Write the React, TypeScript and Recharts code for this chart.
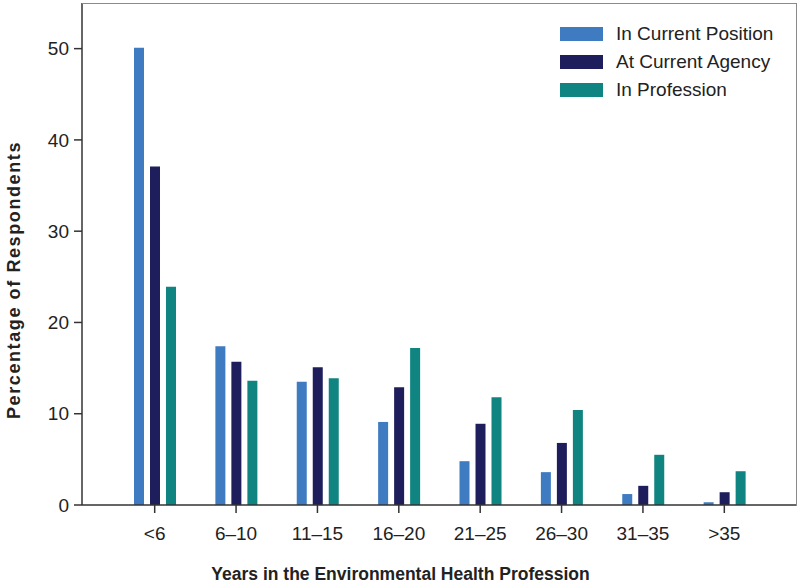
import React from 'react';
import { BarChart, Bar, XAxis, YAxis, Label } from 'recharts';

const categories = ['<6', '6–10', '11–15', '16–20', '21–25', '26–30', '31–35', '>35'];
const currentPosition = [50.1, 17.4, 13.5, 9.1, 4.8, 3.6, 1.2, 0.3];
const currentAgency = [37.1, 15.7, 15.1, 12.9, 8.9, 6.8, 2.1, 1.4];
const inProfession = [23.9, 13.6, 13.9, 17.2, 11.8, 10.4, 5.5, 3.7];
const yTicks = [0, 10, 20, 30, 40, 50];

const seriesNames = ['In Current Position', 'At Current Agency', 'In Profession'];
const colors = ['#3E7BC0', '#1E1E5C', '#0F8480'];

const data = categories.map((c, i) => ({
  cat: c,
  pos: currentPosition[i],
  agency: currentAgency[i],
  prof: inProfession[i],
}));

const font = '"Liberation Sans", Arial, Helvetica, sans-serif';

const YLabel = (props: any) => {
  const vb = props.viewBox || { x: 0, y: 0, width: 0, height: 0 };
  const cx = 20;
  const cy = vb.y + vb.height / 2 + 26;
  return (
    <text
      x={cx}
      y={cy}
      transform={`rotate(-90, ${cx}, ${cy})`}
      textAnchor="middle"
      style={{ fontSize: 18, fontWeight: 'bold', fill: '#222', fontFamily: font, letterSpacing: 1.6 }}
    >
      Percentage of Respondents
    </text>
  );
};

export default function App() {
  return (
    <div style={{ position: 'absolute', left: 0, top: 0, width: 800, height: 587, background: '#fff' }}>
      <BarChart
        width={800}
        height={587}
        data={data}
        margin={{ top: 3, right: 3, left: 0, bottom: 0 }}
        barSize={10}
        barGap={6}
      >
        <XAxis
          dataKey="cat"
          height={82}
          padding={{ left: 32, right: 32 }}
          tickSize={8}
          tickMargin={14}
          tick={{ fontSize: 19, fill: '#222', fontFamily: font }}
          axisLine={{ stroke: '#333', strokeWidth: 1.5 }}
          tickLine={{ stroke: '#333', strokeWidth: 1.5 }}
        >
          <Label
            value="Years in the Environmental Health Profession"
            position="insideBottom"
            offset={7}
            dx={-39}
            style={{ fontSize: 17.5, fontWeight: 'bold', fill: '#222', fontFamily: font }}
          />
        </XAxis>
        <YAxis
          width={82}
          domain={[0, 55]}
          ticks={yTicks}
          interval={0}
          tickSize={8}
          tickMargin={5}
          tick={{ fontSize: 19, fill: '#222', fontFamily: font }}
          axisLine={{ stroke: '#333', strokeWidth: 1.5 }}
          tickLine={{ stroke: '#333', strokeWidth: 1.5 }}
        >
          <Label content={YLabel} />
        </YAxis>
        <Bar dataKey="pos" name={seriesNames[0]} fill={colors[0]} isAnimationActive={false} />
        <Bar dataKey="agency" name={seriesNames[1]} fill={colors[1]} isAnimationActive={false} />
        <Bar dataKey="prof" name={seriesNames[2]} fill={colors[2]} isAnimationActive={false} />
      </BarChart>
      <div
        style={{
          position: 'absolute',
          left: 82,
          top: 3,
          width: 714,
          height: 502,
          borderTop: '1px solid #8a8a8a',
          borderRight: '1px solid #8a8a8a',
          pointerEvents: 'none',
        }}
      />
      <div
        style={{
          position: 'absolute',
          left: 560,
          top: 20,
          fontFamily: font,
          fontSize: 19,
          color: '#222',
        }}
      >
        {seriesNames.map((n, i) => (
          <div key={n} style={{ display: 'flex', alignItems: 'center', height: 28 }}>
            <div style={{ width: 43, height: 14, background: colors[i], marginRight: 13 }} />
            <span>{n}</span>
          </div>
        ))}
      </div>
    </div>
  );
}
